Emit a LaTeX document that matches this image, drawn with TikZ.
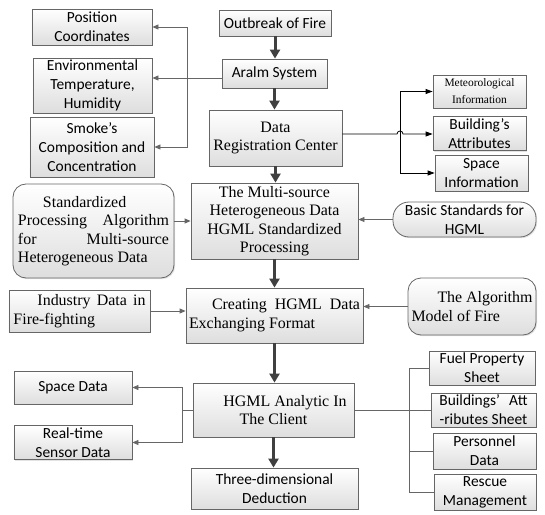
\documentclass[tikz,border=0pt]{standalone}
\usepackage{fontspec}
\setmainfont{Liberation Serif}
\newfontfamily\sansf{Carlito}
\usetikzlibrary{arrows.meta,shadows}
\tikzset{
  box/.style={draw=black!60, line width=0.8bp, top color=white, bottom color=black!13,
    inner sep=2bp, drop shadow={opacity=0.22, shadow xshift=1.2bp, shadow yshift=-1.2bp}},
  rbox/.style={box, rounded corners=13bp},
  pill/.style={box, rounded corners=16bp},
  sf/.style={font=\sansf\fontsize{15.5}{19}\selectfont, align=center},
  rm/.style={font=\fontsize{16}{18.5}\selectfont, align=center},
  rmsmall/.style={font=\fontsize{11.5}{17}\selectfont, align=center},
  just/.style={font=\fontsize{16}{18.5}\selectfont, align=flush left},
  bigarr/.style={draw=black!75, line width=3bp, -{Triangle[length=9bp,width=10bp]}},
  garr/.style={draw=black!60, line width=0.8bp, -{Triangle[length=6bp,width=5bp]}},
  barr/.style={draw=black, line width=0.8bp, -{Triangle[length=7bp,width=5bp]}},
  gline/.style={draw=black!60, line width=0.8bp},
}
\begin{document}
\begin{tikzpicture}[x=1bp,y=-1bp]
\useasboundingbox (0,0) rectangle (545,515);

% top-left column
\node[box,sf,minimum width=120bp,minimum height=36bp] (pos) at (92,27) {Position\\Coordinates};
\node[box,sf,minimum width=119bp,minimum height=53bp] (env) at (92.5,85.5) {Environmental\\Temperature,\\Humidity};
\node[box,sf,minimum width=124bp,minimum height=60bp] (smoke) at (92,147) {Smoke’s\\Composition and\\Concentration};

% main column
\node[box,sf,minimum width=112bp,minimum height=26bp] (fire) at (275,23) {Outbreak of Fire};
\node[box,sf,minimum width=105bp,minimum height=29bp] (alarm) at (274.5,73.5) {Aralm System};
\node[box,rm,minimum width=133bp,minimum height=56bp] (reg) at (275.5,138) {Data\\Registration Center};
\node[box,rm,minimum width=167bp,minimum height=76bp] (multi) at (274.5,221) {The Multi-source\\Heterogeneous Data\\HGML Standardized\\Processing};
\node[box,just,text width=171bp,minimum width=177bp,minimum height=55bp] (create) at (274.5,315.5) {\hspace*{23bp}Creating\hfill HGML\hfill Data\\Exchanging Format};
\node[box,rm,minimum width=161bp,minimum height=54bp] (analytic) at (273.5,410) {\hspace*{23bp}HGML Analytic In\\The Client};
\node[box,sf,minimum width=167bp,minimum height=41bp] (deduct) at (274.5,488.5) {Three-dimensional\\Deduction};

% top-right column
\node[box,rmsmall,minimum width=93bp,minimum height=33bp] (meteo) at (479.5,91.5) {Meteorological\\Information};
\node[box,sf,minimum width=93bp,minimum height=31bp] (bldg) at (479.5,133.5) {Building’s\\Attributes};
\node[box,sf,minimum width=93bp,minimum height=36bp] (spinfo) at (481.5,173) {Space\\Information};

% side inputs
\node[rbox,just,text width=151bp,minimum width=161bp,minimum height=94bp] (std) at (93.5,231) {\hspace*{25bp}Standardized\\Processing\hfill Algorithm\\for\hfill Multi-source\\Heterogeneous Data};
\node[pill,sf,minimum width=143bp,minimum height=35bp] (basic) at (464.5,219.5) {Basic Standards for\\HGML};
\node[box,just,text width=132bp,minimum width=141bp,minimum height=42bp] (industry) at (79.5,311) {\hspace*{24bp}Industry\hfill Data\hfill in\\Fire-fighting};
\node[rbox,just,text width=121bp,minimum width=128bp,minimum height=57bp] (algo) at (472,306.5) {\hspace*{26bp}The\hfill Algorithm\\Model of Fire};

% bottom-left outputs
\node[box,sf,minimum width=118bp,minimum height=33bp] (spdata) at (73,387.5) {Space Data};
\node[box,sf,minimum width=118bp,minimum height=31bp] (sensor) at (73,442.5) {Real-time\\Sensor Data};

% bottom-right sheets
\node[box,sf,minimum width=106bp,minimum height=34bp] (fuel) at (482,368) {Fuel Property\\Sheet};
\node[box,sf,minimum width=105bp,minimum height=34bp] (battr) at (483.5,410) {Buildings’\hspace{0.6em}Att\\-ributes Sheet};
\node[box,sf,minimum width=103bp,minimum height=36bp] (person) at (484.5,451) {Personnel\\Data};
\node[box,sf,minimum width=102bp,minimum height=33bp] (rescue) at (485,492.5) {Rescue\\Management};

% main thick arrows
\draw[bigarr] (fire.south) -- (fire.south |- alarm.north);
\draw[bigarr] (alarm.south) -- (alarm.south |- reg.north);
\draw[bigarr] (reg.south) -- (reg.south |- multi.north);
\draw[bigarr] (multi.south) -- (multi.south |- create.north);
\draw[bigarr] (create.south) -- (create.south |- analytic.north);
\draw[bigarr] (analytic.south) -- (analytic.south |- deduct.north);

% top-left connectors
\coordinate (jl) at (187,78);
\draw[garr] (alarm.west |- jl) -- (env.east |- jl);
\draw[garr] (jl) |- (pos.east);
\draw[garr] (jl) |- (smoke.east);

% top-right connectors
\coordinate (jr) at (400,134);
\draw[barr] (jr) |- (meteo.west);
\draw[barr] (jr) |- (spinfo.west);
\draw[barr] (reg.east |- jr) -- ([xshift=-3bp]jr) arc[start angle=180, end angle=0, radius=3bp] -- (bldg.west |- jr);

% side inputs
\draw[garr] (std.east |- multi.west) -- (multi.west);
\draw[garr] (basic.west) -- (basic.west -| multi.east);
\draw[garr] (industry.east) -- (industry.east -| create.west);
\draw[garr] (algo.west) -- (algo.west -| create.east);

% bottom-left connectors
\coordinate (jb) at (182,410);
\draw[gline] (analytic.west) -- (jb);
\draw[garr] (jb) |- (spdata.east);
\draw[garr] (jb) |- (sensor.east);

% bottom-right connectors
\coordinate (jr2) at (409,410);
\draw[gline] (analytic.east) -- (jr2);
\draw[gline] (jr2) |- (fuel.west);
\draw[gline] (jr2) -- (battr.west);
\draw[gline] (jr2) |- (person.west);
\draw[gline] (jr2) |- (rescue.west);
\end{tikzpicture}
\end{document}
